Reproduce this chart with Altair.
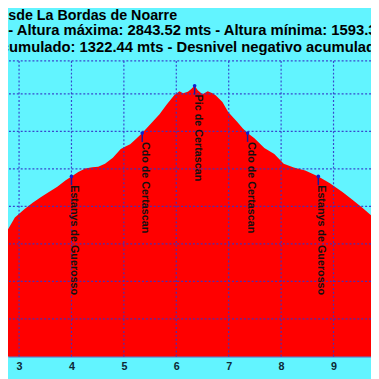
import altair as alt
import pandas as pd

# ---- data ----
dist_km = [2.64, 2.79, 2.92, 3.10, 3.26, 3.42, 3.57, 3.73, 3.89, 4.00, 4.13, 4.26,
           4.40, 4.51, 4.64, 4.79, 4.94, 5.03, 5.12, 5.23, 5.35, 5.50, 5.68, 5.81,
           5.96, 6.06, 6.13, 6.22, 6.28, 6.35, 6.41, 6.50, 6.60, 6.69, 6.75, 6.88,
           6.99, 7.16, 7.27, 7.36, 7.49, 7.68, 7.87, 8.05, 8.24, 8.46, 8.71, 8.93,
           9.17, 9.36, 9.55, 9.72, 9.85]
elev_m = [2037, 2078, 2141, 2185, 2219, 2250, 2277, 2305, 2339, 2360, 2383, 2402,
          2409, 2412, 2428, 2459, 2506, 2520, 2532, 2560, 2591, 2637, 2691, 2741,
          2793, 2814, 2804, 2811, 2825, 2843.52, 2819, 2798, 2814, 2804, 2793, 2757,
          2704, 2652, 2616, 2591, 2564, 2511, 2480, 2428, 2407, 2391, 2360, 2324,
          2277, 2235, 2193, 2151, 2120]

wp_names = ["Estanys de Guerosso", "Cdo de Certascan", "Pic de Certascan",
            "Cdo de Certascan", "Estanys de Guerosso"]
wp_km = [4.00, 5.35, 6.35, 7.36, 8.71]
wp_m = [2360, 2591, 2843.52, 2591, 2360]

x_ticks = [3, 4, 5, 6, 7, 8, 9]
y_grid = [1600, 1800, 2000, 2200, 2400, 2600, 2800]
Y_MIN, Y_MAX = 1400, 2976
X_MIN, X_MAX = 2.789, 9.715

title_line = "Ruta al Certascan desde La Bordas de Noarre"
subtitle_lines = [
    "Distancia: 12.7 kms - Altura máxima: 2843.52 mts - Altura mínima: 1593.3 mts",
    "Desnivel positivo acumulado: 1322.44 mts - Desnivel negativo acumulado: 1322.44 mts",
]

CYAN = "#62f4ff"
RED = "#ff0000"
GRID = "#3434c8"
FONT = "Liberation Sans"

profile = pd.DataFrame({"km": dist_km, "m": elev_m})
wps = pd.DataFrame({"km": wp_km, "m": wp_m, "name": wp_names})
vlines = pd.DataFrame({"km": x_ticks})
hlines = pd.DataFrame({"m": y_grid + [Y_MAX]})

xs = alt.Scale(domain=[X_MIN, X_MAX], nice=False, zero=False)
ys = alt.Scale(domain=[Y_MIN, Y_MAX], nice=False, zero=False)

xaxis = alt.Axis(values=x_ticks, format="d", title=None, grid=False, ticks=False,
                 labelPadding=4, labelFont=FONT, labelFontSize=11,
                 labelFontWeight="bold", labelColor="#0d2a36", labelFlush=False,
                 domainColor="#5a3cb4", domainWidth=1)

area = alt.Chart(profile).mark_area(color=RED, opacity=1, clip=True).encode(
    x=alt.X("km:Q", scale=xs, axis=xaxis),
    y=alt.Y("m:Q", scale=ys, axis=None))

vgrid = alt.Chart(vlines).mark_rule(color=GRID, strokeDash=[2, 2], strokeWidth=1.2,
                                    opacity=0.9).encode(x=alt.X("km:Q", scale=xs))
hgrid = alt.Chart(hlines).mark_rule(color=GRID, strokeDash=[2, 2], strokeWidth=1.2,
                                    opacity=0.9).encode(y=alt.Y("m:Q", scale=ys))

stem = alt.Chart(wps).mark_tick(orient="vertical", color="#1a1a9a", size=9,
                                thickness=1.5, yOffset=4.5, opacity=1).encode(
    x=alt.X("km:Q", scale=xs), y=alt.Y("m:Q", scale=ys))
pts = alt.Chart(wps).mark_circle(color="#1020d0", size=14, opacity=1).encode(
    x=alt.X("km:Q", scale=xs), y=alt.Y("m:Q", scale=ys))
labels = alt.Chart(wps).mark_text(angle=90, align="left", baseline="alphabetic", dx=9,
                                  font=FONT, fontSize=11, fontWeight="bold",
                                  color="#141010").encode(
    x=alt.X("km:Q", scale=xs), y=alt.Y("m:Q", scale=ys), text="name:N")

chart = alt.layer(area, hgrid, vgrid, stem, pts, labels).properties(
    width=371, height=302,
    autosize=alt.AutoSizeParams(type="none"),
    padding={"left": 0, "top": 50, "right": 0, "bottom": 19},
    title=alt.TitleParams(text=title_line, subtitle=subtitle_lines, anchor="start",
                          dx=-144, fontSize=14.6, font=FONT, fontWeight="bold",
                          color="#000000", lineHeight=16,
                          subtitleFont=FONT, subtitleFontSize=15.1,
                          subtitleFontWeight="bold", subtitleColor="#000000",
                          subtitleLineHeight=17, subtitlePadding=1.5,
                          offset=5.5, frame="group"),
).configure(background=CYAN).configure_view(fill=CYAN, stroke="transparent")

chart.save("out.html", embed_options={"renderer": "svg", "actions": False})
